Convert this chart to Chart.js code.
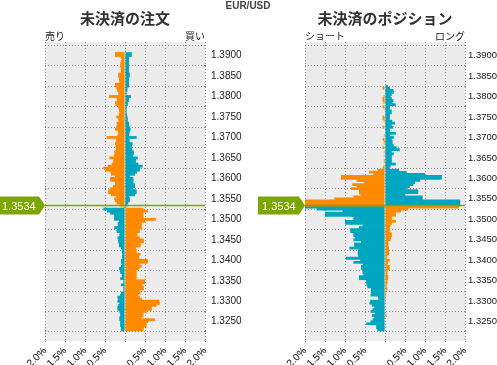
<!DOCTYPE html>
<html>
<head>
<meta charset="utf-8">
<script src="https://cdn.jsdelivr.net/npm/chart.js@4"></script>
<style>
  html, body { margin: 0; padding: 0; background: #fff; }
  #wrap { position: relative; width: 497px; height: 365px; }
  canvas { position: absolute; left: 0; top: 0; }
</style>
</head>
<body>
<div id="wrap">
  <canvas id="orders" width="497" height="365"></canvas>
  <canvas id="positions" width="497" height="365"></canvas>
</div>
<script>
// price buckets, 0.0005 wide, from the top of the book down
var bucketTop = 1.3905;
var bucketStep = 0.0005;
var bucketCount = 136;
var prices = [];
for (var k = 0; k < bucketCount; k++) {
  prices.push(+(bucketTop - k * bucketStep).toFixed(4));
}

var currentPrice = 1.3534;
var priceTicks = [1.3900, 1.3850, 1.3800, 1.3750, 1.3700, 1.3650, 1.3600, 1.3550,
                  1.3500, 1.3450, 1.3400, 1.3350, 1.3300, 1.3250];
var pctTicks = [-2, -1.5, -1, -0.5, 0, 0.5, 1, 1.5, 2];

// open orders (%), one value per bucket
var orderOrange = [
  0.25,0.25,0.10,0.09,0.10,0.12,0.12,0.11,0.10,0.10,
  0.17,0.17,0.15,0.15,0.14,0.25,0.25,0.21,0.20,0.17,
  0.16,0.40,0.21,0.20,0.25,0.24,0.17,0.16,0.15,0.14,
  0.15,0.22,0.17,0.16,0.21,0.20,0.22,0.25,0.18,0.17,
  0.19,0.46,0.22,0.23,0.25,0.24,0.22,0.23,0.27,0.26,
  0.28,0.39,0.29,0.30,0.33,0.43,0.54,0.50,0.36,0.35,
  0.25,0.37,0.37,0.25,0.25,0.30,0.37,0.42,0.42,0.35,
  0.22,0.27,0.25,0.21,0.12,
  0.03,0.46,0.57,0.46,0.46,0.46,0.77,0.50,0.42,0.42,
  0.43,0.37,0.37,0.31,0.31,0.37,0.47,0.47,0.39,0.39,
  0.27,0.29,0.29,0.39,0.35,0.35,0.57,0.57,0.37,0.42,
  0.36,0.29,0.29,0.29,0.29,0.29,0.50,0.50,0.42,0.47,
  0.47,0.37,0.39,0.33,0.37,0.42,0.86,0.87,0.79,0.67,
  0.67,0.54,0.46,0.46,0.42,0.75,0.58,0.54,0.54,0.47,
  0.46
];
var orderTeal = [
  0.17,0.17,0.10,0.10,0.10,0.10,0.10,0.10,0.10,0.10,
  0.12,0.12,0.10,0.10,0.10,0.10,0.10,0.06,0.06,0.04,
  0.04,0.15,0.10,0.10,0.07,0.07,0.05,0.04,0.04,0.04,
  0.05,0.06,0.07,0.07,0.10,0.10,0.12,0.14,0.12,0.11,
  0.10,0.29,0.11,0.12,0.19,0.18,0.17,0.18,0.22,0.22,
  0.20,0.32,0.28,0.27,0.33,0.44,0.38,0.37,0.30,0.25,
  0.13,0.21,0.21,0.21,0.25,0.25,0.21,0.29,0.29,0.25,
  0.11,0.12,0.12,0.08,0.06,
  0.03,0.54,0.45,0.37,0.27,0.27,0.27,0.15,0.18,0.18,
  0.27,0.21,0.21,0.14,0.14,0.19,0.17,0.17,0.15,0.15,
  0.10,0.08,0.08,0.07,0.07,0.07,0.10,0.10,0.08,0.10,
  0.15,0.13,0.12,0.08,0.08,0.12,0.04,0.04,0.10,0.04,
  0.04,0.04,0.10,0.12,0.19,0.17,0.19,0.14,0.17,0.19,
  0.19,0.14,0.12,0.12,0.14,0.14,0.12,0.12,0.12,0.10,
  0.10
];

// open positions (%)
var positionOrange = [
  0,0,0,0,0,0,0,0,0,0,0,0,0,0,0,0,
  0,0.06,0,0,0,0.04,0.06,0.06,0.04,0,
  0.06,0.03,0,0,0,0.06,0.06,0.03,0,0,
  0.06,0,0,0,0.03,0,0.06,0.03,0.03,0,
  0.06,0,0.03,0,0.03,0,0.03,0.03,0,0.04,
  0.06,0.19,0.40,0.29,1.10,1.10,0.71,0.53,0.82,0.71,
  0.85,0.65,0.65,0.61,0.79,1.27,2.40,2.40,2.40,
  1.85,0.58,0.40,0.27,0.27,0.17,0.17,0.27,0.17,0.14,
  0.12,0.12,0.12,0.17,0.17,0.15,0.14,0.08,0.08,0.08,
  0.10,0.10,0.10,0.10,0.06,0.04,0.12,0.08,0.06,0.12,
  0.12,0.06,0.06,0.06,0.08,0.08,0.06,0.06,0.04,0.04,
  0.06,0.03,0.03,0.03,0.02,0.02,0.02,0,0,0,
  0,0,0,0.04,0,0,0,0,0,0,
  0
];
var positionTeal = [
  0,0,0,0,0,0,0,0,0,0,0,0,0,0,0,0,
  0.07,0.12,0.21,0.22,0.17,0.14,0.17,0.21,0.19,0.27,
  0.12,0.12,0.17,0.17,0.12,0.12,0.12,0.18,0.25,0.17,
  0.21,0.12,0.12,0.27,0.12,0.22,0.17,0.19,0.19,0.22,
  0.29,0.37,0.17,0.22,0.17,0.17,0.17,0.17,0.27,0.14,
  0.11,0.35,0.54,1.00,1.42,1.42,0.88,0.75,0.71,0.62,
  0.54,0.83,0.83,0.50,0.94,0.94,1.88,1.88,1.88,
  2.40,1.71,1.06,1.50,1.50,0.79,0.79,1.00,1.00,0.56,
  0.65,0.87,0.87,0.79,0.79,0.75,0.79,0.60,0.77,0.77,
  0.89,0.67,0.68,0.68,0.67,0.98,0.62,0.79,0.56,0.60,
  0.60,0.56,0.56,0.54,0.65,0.65,0.47,0.47,0.46,0.44,
  0.35,0.35,0.35,0.36,0.18,0.17,0.37,0.39,0.33,0.27,
  0.31,0.36,0.25,0.33,0.27,0.31,0.36,0.47,0.22,0.22,
  0.19
];

var ORANGE = '#ff8a00';
var TEAL = '#00a6bf';
var GREEN = '#7ba600';
var JP = '"Noto Sans CJK JP", sans-serif';
var LAT = '"Liberation Sans", Arial, sans-serif';

// orange sits left of zero above the current price and right of it below; teal the other way
function side(values, flip) {
  return prices.map(function(p, i) {
    var above = p > currentPrice;
    var sign = (above !== flip) ? -1 : 1;
    return { x: sign * values[i], y: p };
  });
}

function makePanel(id, orange, teal, plotLeft, plotRight, opts) {
  var decor = {
    id: 'decor' + id,
    beforeDraw: function(chart) {
      var a = chart.chartArea, c = chart.ctx;
      c.save();
      c.fillStyle = '#ececec';
      c.fillRect(a.left, a.top, a.right - a.left, a.bottom - a.top);
      c.restore();
    },
    afterDatasetsDraw: function(chart) {
      var a = chart.chartArea, c = chart.ctx;
      var y = Math.round(chart.scales.y.getPixelForValue(currentPrice)) + 0.5;
      c.save();
      c.strokeStyle = GREEN;
      c.lineWidth = 1.5;
      c.beginPath();
      c.moveTo(a.left, y);
      c.lineTo(a.right, y);
      c.stroke();
      // price tag
      var tx = a.left - 47;
      c.fillStyle = GREEN;
      c.beginPath();
      c.moveTo(tx, y - 9);
      c.lineTo(a.left - 6, y - 9);
      c.lineTo(a.left, y);
      c.lineTo(a.left - 6, y + 9);
      c.lineTo(tx, y + 9);
      c.closePath();
      c.fill();
      c.fillStyle = '#fff';
      c.font = '11px ' + LAT;
      c.textAlign = 'left';
      c.textBaseline = 'middle';
      c.fillText(currentPrice.toFixed(4), tx + 4, y + 1);
      // titles
      var mid = (a.left + a.right) / 2;
      c.fillStyle = '#333';
      c.font = 'bold 15px ' + JP;
      c.textAlign = 'center';
      c.fillText(opts.title, mid, 18);
      c.fillStyle = '#222';
      c.font = '10px ' + JP;
      c.textAlign = 'left';
      c.fillText(opts.leftLabel, a.left, 36);
      c.textAlign = 'right';
      c.fillText(opts.rightLabel, a.right, 36);
      if (opts.header) {
        c.fillStyle = '#444';
        c.font = 'bold 10px ' + LAT;
        c.textAlign = 'center';
        c.fillText(opts.header, 248, 6);
      }
      c.restore();
    }
  };

  var dotted = { color: '#8c8c8c', lineWidth: 1, tickLength: 3, tickBorderDash: [1, 2] };

  return new Chart(document.getElementById(id), {
    type: 'bar',
    data: {
      datasets: [
        { data: side(orange, false), backgroundColor: ORANGE },
        { data: side(teal, true), backgroundColor: TEAL }
      ]
    },
    options: {
      indexAxis: 'y',
      responsive: false,
      animation: false,
      events: [],
      layout: { padding: { left: plotLeft, top: 42, right: 0, bottom: 0 } },
      datasets: {
        bar: { grouped: false, barPercentage: 1.35, categoryPercentage: 1, borderWidth: 0, inflateAmount: 0 }
      },
      plugins: { legend: { display: false }, tooltip: { enabled: false } },
      scales: {
        x: {
          type: 'linear',
          min: -2, max: 2,
          afterBuildTicks: function(s) { s.ticks = pctTicks.map(function(v) { return { value: v }; }); },
          afterFit: function(s) { s.height = 24; },
          border: { display: false, dash: [1, 2] },
          grid: dotted,
          ticks: {
            minRotation: 45, maxRotation: 45, autoSkip: false, padding: 1,
            color: '#000', font: { family: LAT, size: 10 },
            callback: function(v) { return v === 0 ? '' : Math.abs(v).toFixed(1) + '%'; }
          }
        },
        y: {
          type: 'linear',
          position: 'right',
          min: 1.3229, max: 1.3907,
          afterBuildTicks: function(s) { s.ticks = priceTicks.map(function(v) { return { value: v }; }); },
          afterFit: function(s) { s.width = 497 - plotRight; },
          border: { display: false, dash: [1, 2] },
          grid: dotted,
          ticks: {
            padding: opts.tickPad, color: '#222', font: { family: LAT, size: opts.tickSize },
            callback: function(v) { return Number(v).toFixed(4); }
          }
        }
      }
    },
    plugins: [decor]
  });
}

makePanel('orders', orderOrange, orderTeal, 45, 205,
  { title: '未決済の注文', leftLabel: '売り', rightLabel: '買い', header: 'EUR/USD', tickPad: 3, tickSize: 10 });
makePanel('positions', positionOrange, positionTeal, 305, 465,
  { title: '未決済のポジション', leftLabel: 'ショート', rightLabel: 'ロング', tickPad: 0, tickSize: 9.5 });
</script>
</body>
</html>
